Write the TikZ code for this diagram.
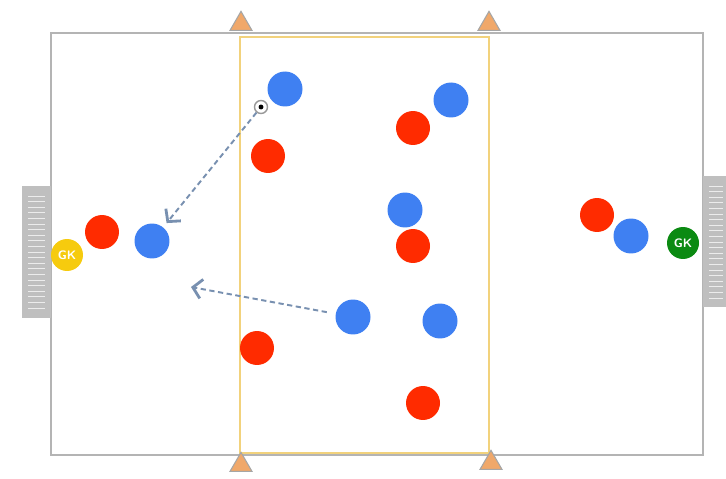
\documentclass[tikz,border=0pt]{standalone}
\usepackage{xcolor}
\usepackage{tikz}
\usetikzlibrary{positioning,arrows.meta,shapes.geometric}
\definecolor{redp}{HTML}{FF2B00}
\definecolor{bluep}{HTML}{3F80F2}
\definecolor{gkyellow}{HTML}{F6CB0E}
\definecolor{gkgreen}{HTML}{0B8A12}
\definecolor{pitchline}{HTML}{B4B4B4}
\definecolor{zoneline}{HTML}{F2D27C}
\definecolor{passline}{HTML}{7890B0}
\definecolor{conefill}{HTML}{F0A86A}
\begin{document}
\begin{tikzpicture}[x=0.02cm, y=-0.02cm,
  red/.style={circle, fill=redp, minimum size=0.68cm, inner sep=0pt},
  blue/.style={circle, fill=bluep, minimum size=0.70cm, inner sep=0pt},
  keeper/.style={circle, minimum size=0.64cm, inner sep=0pt, text=white, font=\sffamily\bfseries\scriptsize},
  cone/.style={isosceles triangle, isosceles triangle apex angle=60, shape border rotate=90, fill=conefill, draw=gray!70, line width=0.6pt, minimum height=0.38cm, inner sep=0pt},
  pass/.style={draw=passline, densely dashed, line width=1.1pt, -{Straight Barb[length=5pt, width=11pt, line width=1.6pt]}}]
\useasboundingbox (0,0) rectangle (726,479);
% pitch and central zone
\draw[pitchline, line width=1.2pt] (51,33) rectangle (703,455);
\draw[zoneline, line width=1.4pt] (240,37) rectangle (489,453);
% goals
\foreach \x/\w/\ya/\yb in {22/29/186/318, 703/26/176/307}{
  \fill[gray!50] (\x,\ya) rectangle +(\w,\yb-\ya);
  \foreach \k in {0,...,20}{\draw[white!85!gray, line width=0.5pt] (\x+6,\ya+10+\k*5.6) -- ++(\w-12,0);}
}
% cones
\node[cone] (c1) at (241,24) {};
\node[cone] (c2) at (489,24) {};
\node[cone] (c3) at (241,465) {};
\node[cone] (c4) at (491,463) {};
% keepers
\node[keeper, fill=gkyellow] (gk1) at (67,255) {GK};
\node[keeper, fill=gkgreen] (gk2) at (683,243) {GK};
% red team
\foreach \n/\x/\y in {r1/102/232, r2/268/156, r3/413/128, r4/413/246, r5/257/348, r6/423/403, r7/597/215}
  \node[red] (\n) at (\x,\y) {};
% blue team
\foreach \n/\x/\y in {b1/152/241, b2/285/89, b3/451/100, b4/405/210, b5/353/317, b6/440/321, b7/631/236}
  \node[blue] (\n) at (\x,\y) {};
% ball
\node[circle, draw=gray!80, fill=white, line width=0.8pt, minimum size=0.26cm, inner sep=0pt] (ball) at (261,107) {};
\fill (ball) circle (1.4pt);
% passes
\coordinate (run) at (191,287);
\draw[pass, shorten >=3pt] (ball) -- (b1);
\draw[pass, shorten <=5pt] (b5) -- (run);
\end{tikzpicture}
\end{document}
